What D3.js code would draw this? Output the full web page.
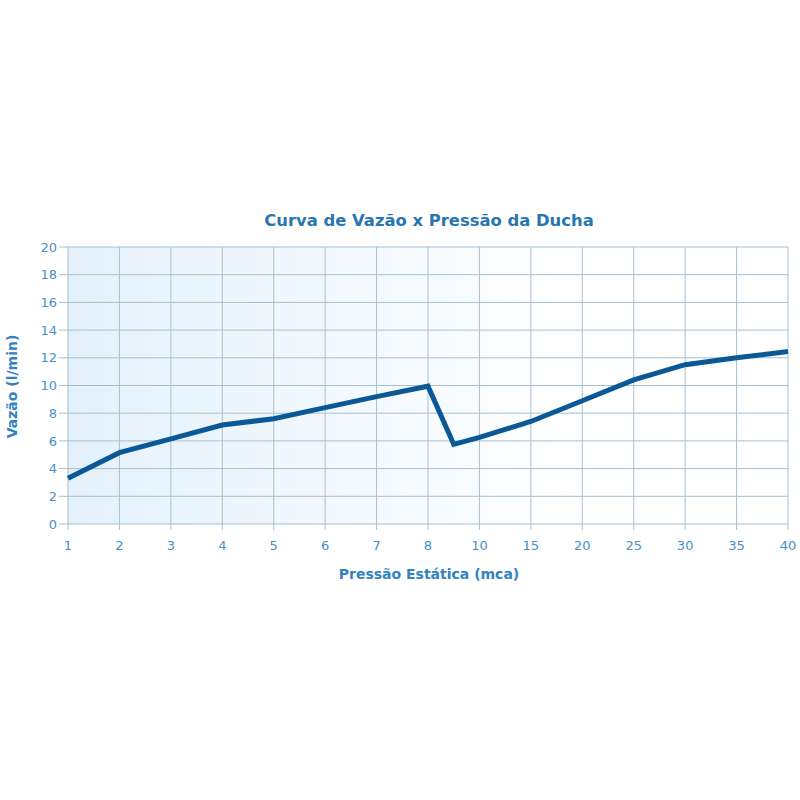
<!DOCTYPE html>
<html><head><meta charset="utf-8">
<script src="https://cdn.jsdelivr.net/npm/d3@7"></script>
<style>body{margin:0;background:#fff}svg{display:block}</style>
</head><body>
<script>
const xTicks = [1,2,3,4,5,6,7,8,10,15,20,25,30,35,40];
const yTicks = [0,2,4,6,8,10,12,14,16,18,20];
const pressure = [1,2,3,4,5,6,7,8,9,10,15,20,25,30,35,40];
const flow = [3.3,5.15,6.15,7.15,7.6,8.4,9.2,9.95,5.75,6.25,7.4,8.9,10.4,11.5,12.0,12.45];
const title = "Curva de Vazão x Pressão da Ducha";
const xTitle = "Pressão Estática (mca)";
const yTitle = "Vazão (l/min)";

(function(){
const W = 800, H = 800;
const pL = 68, pR = 788, pT = 247, pB = 524;
const font = "DejaVu Sans, Verdana, sans-serif";
const svg = d3.select("body").append("svg").attr("width", W).attr("height", H);
const step = (pR - pL) / (xTicks.length - 1);
const x = d3.scaleLinear().domain(xTicks).range(xTicks.map((d, i) => pL + i * step));
const y = d3.scaleLinear().domain([0, 20]).range([pB, pT]);

const defs = svg.append("defs");
const g = defs.append("linearGradient").attr("id", "bg").attr("x1", 0).attr("x2", 1).attr("y1", 0).attr("y2", 0);
g.append("stop").attr("offset", "0%").attr("stop-color", "#e4f1fb");
g.append("stop").attr("offset", "70%").attr("stop-color", "#ffffff");
g.append("stop").attr("offset", "100%").attr("stop-color", "#ffffff");
svg.append("rect").attr("x", pL).attr("y", pT).attr("width", pR - pL).attr("height", pB - pT).attr("fill", "url(#bg)");

const gridColor = "#a6c0d3";
svg.append("g").selectAll("line").data(yTicks).join("line")
  .attr("x1", pL - 9).attr("x2", pR).attr("y1", d => y(d)).attr("y2", d => y(d))
  .attr("stroke", gridColor).attr("stroke-width", 1);
svg.append("g").selectAll("line").data(xTicks).join("line")
  .attr("x1", d => x(d)).attr("x2", d => x(d)).attr("y1", pT).attr("y2", pB + 6)
  .attr("stroke", gridColor).attr("stroke-width", 1);

const labelColor = "#4a8fc6";
svg.append("g").selectAll("text").data(yTicks).join("text")
  .attr("x", pL - 11).attr("y", d => y(d)).attr("dy", "0.36em").attr("text-anchor", "end")
  .attr("font-family", font).attr("font-size", 13).attr("fill", labelColor)
  .text(d => d);
svg.append("g").selectAll("text").data(xTicks).join("text")
  .attr("x", d => x(d)).attr("y", pB + 26).attr("text-anchor", "middle")
  .attr("font-family", font).attr("font-size", 13).attr("fill", labelColor)
  .text(d => d);

const line = d3.line().x(d => x(d[0])).y(d => y(d[1]));
svg.append("path").datum(pressure.map((p, i) => [p, flow[i]]))
  .attr("d", line).attr("fill", "none").attr("stroke", "#0b5896").attr("stroke-width", 5)
  .attr("stroke-linejoin", "miter");

svg.append("text").attr("x", 429).attr("y", 226).attr("text-anchor", "middle")
  .attr("font-family", font).attr("font-size", 16.4).attr("font-weight", "bold")
  .attr("fill", "#2876b0").text(title);
svg.append("text").attr("x", 429).attr("y", 579).attr("text-anchor", "middle")
  .attr("font-family", font).attr("font-size", 14).attr("font-weight", "bold")
  .attr("fill", "#3282c0").text(xTitle);
svg.append("text").attr("transform", `translate(17,${(pT + pB) / 2 + 1}) rotate(-90)`).attr("text-anchor", "middle")
  .attr("font-family", font).attr("font-size", 14).attr("font-weight", "bold")
  .attr("fill", "#3282c0").text(yTitle);
})();
</script>
</body></html>
